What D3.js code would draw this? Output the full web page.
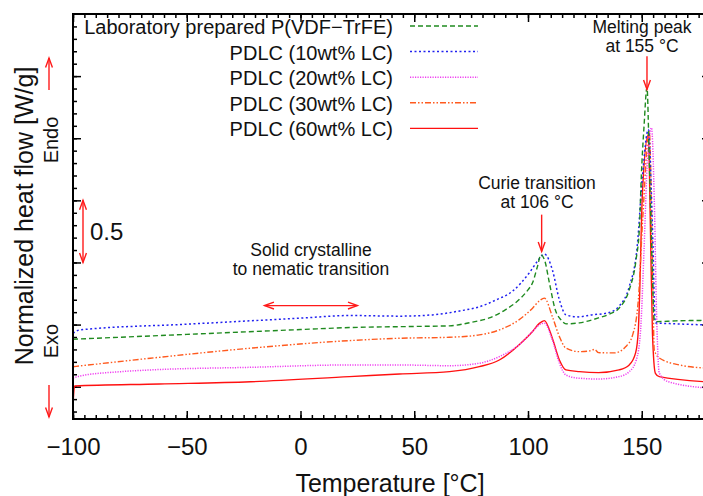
<!DOCTYPE html>
<meta charset="utf-8">
<style>
  body { margin: 0; background: #fff; }
  .chart text { font-family: "Liberation Sans", Arial, Helvetica, sans-serif; fill: #111; }
  .axis path { display: none; }
  .axis line { stroke: #000; stroke-width: 1.5px; }
  .axis text { font-size: 24px; font-family: "Liberation Sans", Arial, sans-serif; fill: #111; }
</style>
<svg class="chart"></svg>
<script src="https://cdn.jsdelivr.net/npm/d3@7"></script>
<script>

// data (temperature in C, heat flow in W/g, arbitrary offset)

var labT = [-100, -50, 0, 21.5, 50, 65.5, 75, 83, 90, 96, 100, 102, 104, 105.7, 107.5, 109.4, 112, 114.5, 116.7, 122.6, 131, 136, 140.2, 144.5, 147.5, 149, 149.8, 151, 152.3, 153.3, 154.5, 155.5, 156.3, 165, 180];
var labH = [0.382, 0.421, 0.460, 0.476, 0.485, 0.490, 0.518, 0.554, 0.619, 0.699, 0.780, 0.836, 0.957, 1.062, 1.006, 0.836, 0.619, 0.538, 0.506, 0.514, 0.554, 0.586, 0.635, 0.780, 1.022, 1.288, 1.691, 2.094, 2.409, 1.829, 1.022, 0.538, 0.524, 0.530, 0.534];

var lc10T = [-100, -97, -50, 0, 21.5, 43.5, 58, 70, 78.6, 86, 93, 100.6, 104, 107.2, 110.7, 113.8, 116.7, 122, 128, 135, 140, 144.5, 148, 150.3, 152.9, 154.7, 156, 165, 180];
var lc10H = [0.430, 0.457, 0.503, 0.552, 0.573, 0.568, 0.578, 0.610, 0.643, 0.699, 0.766, 0.917, 1.006, 1.068, 0.941, 0.699, 0.578, 0.562, 0.578, 0.594, 0.647, 0.806, 1.129, 1.694, 2.070, 1.290, 0.514, 0.506, 0.496];

var lc20T = [-100, -97, -79, -66, -22, 21.5, 43.5, 65.5, 78.6, 87.4, 96, 102, 105, 107.2, 110.7, 113.8, 116.7, 122.6, 131, 140, 144.5, 147.6, 149.5, 151, 152.5, 154.3, 155.5, 156.5, 157.7, 161.7, 180];
var lc20H = [0.070, 0.086, 0.121, 0.135, 0.156, 0.175, 0.175, 0.169, 0.189, 0.242, 0.336, 0.444, 0.498, 0.511, 0.377, 0.189, 0.094, 0.068, 0.062, 0.081, 0.121, 0.215, 0.457, 1.102, 1.828, 2.084, 1.506, 0.594, 0.110, 0.040, -0.012];

var lc30T = [-100, -66, -22, 21.5, 43.5, 65.5, 78.6, 87.4, 96, 102, 105, 107.2, 110.7, 113.8, 116.7, 122.6, 127, 129.2, 131, 138, 143, 146, 148.5, 150.4, 153.3, 154.7, 155.5, 157.7, 166.5, 180];
var lc30H = [0.161, 0.229, 0.310, 0.371, 0.390, 0.398, 0.417, 0.457, 0.538, 0.632, 0.691, 0.713, 0.565, 0.403, 0.310, 0.282, 0.288, 0.300, 0.274, 0.272, 0.323, 0.417, 0.699, 1.344, 2.056, 1.022, 0.296, 0.231, 0.175, 0.148];

var lc60T = [-100, -99.3, -62, -22, 21.5, 43.5, 65.5, 78.6, 87.4, 96, 102, 105, 107.2, 110.7, 113.8, 116.7, 122.6, 131, 140, 144.5, 147.3, 148.5, 149, 150.3, 152.9, 153.8, 154.7, 156, 157.7, 180];
var lc60H = [-0.148, 0.006, 0.022, 0.040, 0.081, 0.102, 0.121, 0.161, 0.215, 0.336, 0.444, 0.510, 0.532, 0.390, 0.215, 0.135, 0.121, 0.113, 0.135, 0.175, 0.272, 0.457, 0.699, 1.562, 2.030, 1.290, 0.433, 0.108, 0.081, 0.038];

var seriesNames = ["Laboratory prepared P(VDF\u2212TrFE)", "PDLC (10wt% LC)", "PDLC (20wt% LC)", "PDLC (30wt% LC)", "PDLC (60wt% LC)"];
var xTicks = [-100, -50, 0, 50, 100, 150];

//setting up the chart area

var W = 703, H = 496;
var pL = 73, pR = 710, pT = 14, pB = 419;

var svg = d3.select(".chart")
    .attr("width", W)
    .attr("height", H);

var x = d3.scaleLinear().domain([-100, 180]).range([pL, pR]);
var y = d3.scaleLinear().domain([-0.26, 3.0]).range([pB, pT]);

var series = [
  { name: seriesNames[0], t: labT, h: labH, color: "#1f8a1f", dash: "5,3", w: 1.4 },
  { name: seriesNames[1], t: lc10T, h: lc10H, color: "#2020f0", dash: "2,2.5", w: 1.5 },
  { name: seriesNames[2], t: lc20T, h: lc20H, color: "#f040f0", dash: "1.2,1.3", w: 1.5 },
  { name: seriesNames[3], t: lc30T, h: lc30H, color: "#ff5a1e", dash: "6,2,1.5,2,1.5,2", w: 1.4 },
  { name: seriesNames[4], t: lc60T, h: lc60H, color: "#ff1010", dash: null, w: 1.4 }
];

svg.append("defs").append("clipPath").attr("id", "clip")
  .append("rect")
    .attr("x", pL).attr("y", pT)
    .attr("width", pR - pL).attr("height", pB - pT);

//axes, all ticks pointing inward

svg.append("g").attr("class", "axis")
    .attr("transform", "translate(0," + pB + ")")
    .call(d3.axisBottom(x).tickValues(d3.range(-100, 181, 5)).tickSize(-4).tickFormat(""));
svg.append("g").attr("class", "axis")
    .attr("transform", "translate(0," + pB + ")")
    .call(d3.axisBottom(x).tickValues(xTicks).tickSize(-8).tickPadding(19).tickFormat(d3.format("d")));

svg.append("g").attr("class", "axis")
    .attr("transform", "translate(0," + pT + ")")
    .call(d3.axisTop(x).tickValues(d3.range(-100, 181, 5)).tickSize(-4).tickFormat(""));
svg.append("g").attr("class", "axis")
    .attr("transform", "translate(0," + pT + ")")
    .call(d3.axisTop(x).tickValues(xTicks).tickSize(-8).tickFormat(""));

var yMinor = d3.range(-2, 30).map(function (d) { return d / 10; });
var yMajor = [0, 0.5, 1, 1.5, 2, 2.5];
[[pL, d3.axisLeft], [pR, d3.axisRight]].forEach(function (a) {
  svg.append("g").attr("class", "axis")
      .attr("transform", "translate(" + a[0] + ",0)")
      .call(a[1](y).tickValues(yMinor).tickSize(-4).tickFormat(""));
  svg.append("g").attr("class", "axis")
      .attr("transform", "translate(" + a[0] + ",0)")
      .call(a[1](y).tickValues(yMajor).tickSize(-8).tickFormat(""));
});

//curves

var line = d3.line()
    .x(function (d) { return x(d[0]); })
    .y(function (d) { return y(d[1]); })
    .curve(d3.curveMonotoneX);

svg.append("g").attr("clip-path", "url(#clip)")
  .selectAll("path")
  .data(series.slice().reverse())
  .enter().append("path")
    .attr("d", function (s) { return line(d3.zip(s.t, s.h)); })
    .attr("fill", "none")
    .attr("stroke", function (s) { return s.color; })
    .attr("stroke-width", function (s) { return s.w; })
    .attr("stroke-dasharray", function (s) { return s.dash; });

svg.append("rect")
    .attr("x", pL).attr("y", pT)
    .attr("width", pR - pL).attr("height", pB - pT)
    .attr("fill", "none").attr("stroke", "#000").attr("stroke-width", 2);

//legend

var leg = svg.selectAll(".leg")
    .data(series)
    .enter().append("g")
    .attr("transform", function (s, i) { return "translate(0," + (26 + i * 25.6) + ")"; });

leg.append("text")
    .attr("x", 393).attr("y", 8)
    .attr("text-anchor", "end")
    .style("font-size", "20px")
    .text(function (s) { return s.name; });

leg.append("line")
    .attr("x1", 410).attr("x2", 478)
    .attr("stroke", function (s) { return s.color; })
    .attr("stroke-width", function (s) { return s.w; })
    .attr("stroke-dasharray", function (s) { return s.dash; });

//axis titles

svg.append("text")
    .attr("x", 390).attr("y", 492)
    .attr("text-anchor", "middle")
    .style("font-size", "25px")
    .text("Temperature [\u00b0C]");

svg.append("text")
    .attr("transform", "translate(33,216) rotate(-90)")
    .attr("text-anchor", "middle")
    .style("font-size", "25px")
    .text("Normalized heat flow [W/g]");

svg.append("text")
    .attr("transform", "translate(58,140) rotate(-90)")
    .attr("text-anchor", "middle")
    .style("font-size", "20px")
    .text("Endo");

svg.append("text")
    .attr("transform", "translate(58,341) rotate(-90)")
    .attr("text-anchor", "middle")
    .style("font-size", "20px")
    .text("Exo");

//annotations

function arrow(x1, y1, x2, y2, both) {
  var g = svg.append("g").attr("stroke", "#ff1a1a").attr("stroke-width", 1.4).attr("fill", "none");
  g.append("line").attr("x1", x1).attr("y1", y1).attr("x2", x2).attr("y2", y2);
  var head = function (ax, ay, bx, by) {
    var ang = Math.atan2(ay - by, ax - bx), L = 10, s = 0.35;
    g.append("path").attr("d",
      "M" + (ax - L * Math.cos(ang - s)) + "," + (ay - L * Math.sin(ang - s)) +
      "L" + ax + "," + ay +
      "L" + (ax - L * Math.cos(ang + s)) + "," + (ay - L * Math.sin(ang + s)));
  };
  head(x2, y2, x1, y1);
  if (both) head(x1, y1, x2, y2);
}

arrow(49, 90, 49, 58, false);
arrow(49, 385, 49, 417, false);
arrow(83, y(1.5), 83, y(1.0), true);
arrow(x(-15.8), y(0.653), x(25), y(0.653), true);
arrow(x(106), y(1.385), x(106), y(1.089), false);
arrow(x(152.3), y(2.659), x(152.3), y(2.393), false);

svg.append("text")
    .attr("x", 90).attr("y", 240)
    .style("font-size", "24px")
    .text("0.5");

var notes = [
  { x: 311, y: 255.5, s: ["Solid crystalline", "to nematic transition"] },
  { x: 537, y: 188.5, s: ["Curie transition", "at 106 \u00b0C"] },
  { x: 642, y: 32.5, s: ["Melting peak", "at 155 \u00b0C"] }
];

var nt = svg.selectAll(".note")
    .data(notes)
    .enter().append("text")
    .attr("y", function (d) { return d.y; })
    .attr("text-anchor", "middle")
    .style("font-size", "17.5px");

nt.selectAll("tspan")
    .data(function (d) { return d.s.map(function (s) { return { x: d.x, s: s }; }); })
    .enter().append("tspan")
    .attr("x", function (d) { return d.x; })
    .attr("dy", function (d, i) { return i ? 19.5 : 0; })
    .text(function (d) { return d.s; });

</script>
